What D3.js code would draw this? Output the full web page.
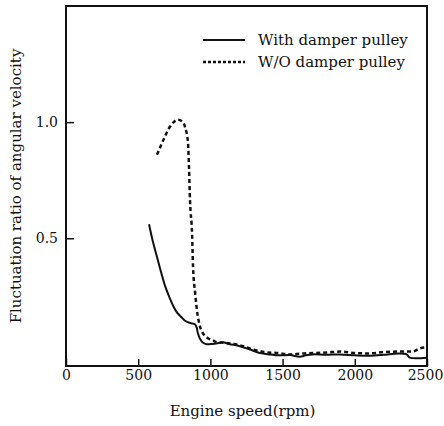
<!DOCTYPE html>
<html>
<head>
<meta charset="utf-8">
<script src="https://cdn.jsdelivr.net/npm/d3@7"></script>
<style>
  body { margin: 0; background: #fff; }
  svg text { font-family: "DejaVu Serif", "Liberation Serif", serif; fill: #111; }
</style>
</head>
<body>
<div id="chart"></div>
<script>
// values
var xTicks = [0, 500, 1000, 1500, 2000, 2500];
var yTicks = [0.5, 1.0];
var yTickLabels = ["0.5", "1.0"];

var withRpm = [575, 600, 630, 660, 686, 720, 745, 769, 800, 824, 860, 893, 905, 914, 930, 949, 975, 1011, 1050, 1087, 1130, 1205, 1270, 1343, 1410, 1482, 1550, 1620, 1660, 1710, 1800, 1900, 2000, 2100, 2200, 2300, 2360, 2380, 2500];
var withVal = [0.56, 0.49, 0.42, 0.35, 0.295, 0.24, 0.205, 0.18, 0.16, 0.145, 0.135, 0.13, 0.115, 0.09, 0.065, 0.05, 0.044, 0.045, 0.048, 0.052, 0.045, 0.035, 0.022, 0.006, 0.0, -0.004, -0.003, -0.01, -0.004, 0.0, -0.002, 0.0, -0.004, -0.006, -0.002, 0.004, 0.0, -0.014, -0.014];

var woRpm = [630, 665, 720, 776, 810, 824, 845, 852, 859, 873, 880, 895, 907, 928, 949, 976, 1018, 1046, 1100, 1200, 1300, 1400, 1461, 1550, 1650, 1800, 1900, 2000, 2100, 2200, 2300, 2400, 2450, 2490];
var woVal = [0.86, 0.91, 0.98, 1.01, 1.0, 0.98, 0.91, 0.80, 0.66, 0.52, 0.375, 0.26, 0.19, 0.12, 0.09, 0.073, 0.06, 0.052, 0.05, 0.04, 0.02, 0.008, 0.006, 0.0, 0.004, 0.008, 0.012, 0.006, 0.004, 0.01, 0.012, 0.012, 0.026, 0.03];

var seriesNames = ["With damper pulley", "W/O damper pulley"];

var width = 444, height = 426;
var margin = {top: 6, right: 17, bottom: 60, left: 66};

var svg = d3.select("#chart").append("svg")
    .attr("width", width)
    .attr("height", height);

var x = d3.scaleLinear().domain([0, 2500]).range([margin.left, width - margin.right]);
var y = d3.scaleLinear().domain([-0.05, 1.5]).range([height - margin.bottom, margin.top]);

// frame
svg.append("rect")
    .attr("x", x(0)).attr("y", y(1.5))
    .attr("width", x(2500) - x(0)).attr("height", y(-0.05) - y(1.5))
    .attr("fill", "none").attr("stroke", "#111").attr("stroke-width", 2);

// x axis, ticks inward
var xAxis = d3.axisBottom(x).tickValues(xTicks).tickFormat(d3.format("d"))
    .tickSizeInner(-7).tickSizeOuter(0).tickPadding(4);
var gx = svg.append("g").attr("transform", "translate(0," + y(-0.05) + ")").call(xAxis);
gx.select(".domain").remove();
gx.selectAll("line").attr("stroke", "#111").attr("stroke-width", 1.5);
gx.selectAll("text").attr("font-size", 14).attr("font-family", "DejaVu Serif")
    .attr("dx", function(d) { return d == 2500 ? -2 : 0; });

// y axis, ticks inward
var yAxis = d3.axisLeft(y).tickValues(yTicks).tickFormat(function(d, i) { return yTickLabels[i]; })
    .tickSizeInner(-8).tickSizeOuter(0).tickPadding(8);
var gy = svg.append("g").attr("transform", "translate(" + x(0) + ",0)").call(yAxis);
gy.select(".domain").remove();
gy.selectAll("line").attr("stroke", "#111").attr("stroke-width", 1.5);
gy.selectAll("text").attr("font-size", 14).attr("font-family", "DejaVu Serif");

// axis titles
svg.append("text")
    .attr("x", (x(0) + x(2500)) / 2 - 4)
    .attr("y", 416)
    .attr("text-anchor", "middle")
    .attr("font-size", 15)
    .text("Engine speed(rpm)");

svg.append("text")
    .attr("transform", "translate(21," + 186 + ") rotate(-90)")
    .attr("text-anchor", "middle")
    .attr("font-size", 15)
    .text("Fluctuation ratio of angular velocity");

// curves
var lineSmooth = d3.line()
    .x(function(d) { return x(d[0]); })
    .y(function(d) { return y(d[1]); })
    .curve(d3.curveCatmullRom.alpha(0.5));

var line = d3.line()
    .x(function(d) { return x(d[0]); })
    .y(function(d) { return y(d[1]); })
    .curve(d3.curveMonotoneX);

var withData = withRpm.map(function(r, i) { return [r, withVal[i]]; });
var woData = woRpm.map(function(r, i) { return [r, woVal[i]]; });

svg.append("path")
    .datum(withData)
    .attr("d", lineSmooth)
    .attr("fill", "none")
    .attr("stroke", "#111")
    .attr("stroke-width", 2);

svg.append("path")
    .datum(woData)
    .attr("d", line)
    .attr("fill", "none")
    .attr("stroke", "#111")
    .attr("stroke-width", 2.5)
    .attr("stroke-dasharray", "4,3");

// legend
var legend = svg.append("g");
var legendY = [40, 62];
legend.selectAll("line")
    .data(seriesNames)
    .enter()
    .append("line")
    .attr("x1", 203).attr("x2", 245)
    .attr("y1", function(d, i) { return legendY[i]; })
    .attr("y2", function(d, i) { return legendY[i]; })
    .attr("stroke", "#111")
    .attr("stroke-width", function(d, i) { return i == 0 ? 2 : 2.5; })
    .attr("stroke-dasharray", function(d, i) { return i == 0 ? null : "3,2"; });

legend.selectAll("text")
    .data(seriesNames)
    .enter()
    .append("text")
    .attr("x", 258)
    .attr("y", function(d, i) { return legendY[i] + 5; })
    .attr("font-size", 15)
    .text(function(d) { return d; });
</script>
</body>
</html>
